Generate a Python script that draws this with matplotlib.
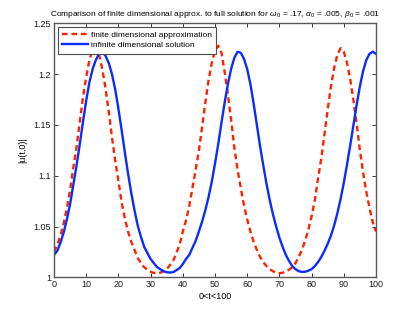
import numpy as np
import matplotlib
matplotlib.use("Agg")
import matplotlib.pyplot as plt

t = list(range(0, 101))

finite_approx = [
    1.025, 1.032, 1.041, 1.053, 1.068, 1.086, 1.108, 1.128, 1.153, 1.177,
    1.197, 1.214, 1.224, 1.226, 1.219, 1.205, 1.186, 1.163, 1.138, 1.115,
    1.095, 1.074, 1.058, 1.045, 1.035, 1.027, 1.019, 1.014, 1.010, 1.0075,
    1.0055, 1.0043, 1.004, 1.0045, 1.006, 1.008, 1.012, 1.016, 1.024, 1.032,
    1.045, 1.056, 1.070, 1.088, 1.106, 1.125, 1.148, 1.172, 1.194, 1.211,
    1.223, 1.228, 1.221, 1.202, 1.180, 1.155, 1.128, 1.106, 1.088, 1.071,
    1.057, 1.045, 1.035, 1.027, 1.020, 1.015, 1.011, 1.008, 1.006, 1.0045,
    1.004, 1.0045, 1.0055, 1.0075, 1.010, 1.014, 1.020, 1.027, 1.036, 1.047,
    1.060, 1.076, 1.097, 1.117, 1.141, 1.165, 1.188, 1.206, 1.219, 1.2255,
    1.222, 1.211, 1.195, 1.174, 1.151, 1.125, 1.103, 1.084, 1.068, 1.054,
    1.045,
]

infinite_sol = [
    1.022, 1.026, 1.034, 1.044, 1.057, 1.072, 1.091, 1.110, 1.131, 1.153,
    1.174, 1.192, 1.205, 1.214, 1.220, 1.222, 1.218, 1.211, 1.200, 1.185,
    1.166, 1.145, 1.123, 1.102, 1.083, 1.066, 1.051, 1.040, 1.030, 1.024,
    1.018, 1.014, 1.010, 1.008, 1.006, 1.005, 1.0047, 1.005, 1.007, 1.009,
    1.013, 1.018, 1.022, 1.029, 1.036, 1.045, 1.055, 1.066, 1.079, 1.094,
    1.112, 1.131, 1.152, 1.172, 1.190, 1.205, 1.216, 1.222, 1.221, 1.215,
    1.205, 1.190, 1.171, 1.150, 1.129, 1.110, 1.092, 1.076, 1.062, 1.050,
    1.039, 1.030, 1.022, 1.016, 1.011, 1.008, 1.006, 1.0053, 1.0055, 1.0065,
    1.008, 1.011, 1.015, 1.020, 1.026, 1.033, 1.041, 1.051, 1.063, 1.077,
    1.093, 1.111, 1.130, 1.150, 1.170, 1.188, 1.203, 1.214, 1.220, 1.222,
    1.220,
]

xticks = [0, 10, 20, 30, 40, 50, 60, 70, 80, 90, 100]
yticks = [1, 1.05, 1.1, 1.15, 1.2, 1.25]
ytick_labels = ["1", "1.05", "1.1", "1.15", "1.2", "1.25"]

plt.rcParams['font.family'] = ['Liberation Sans', 'DejaVu Sans']
plt.rcParams['mathtext.fontset'] = 'custom'
plt.rcParams['mathtext.rm'] = 'Liberation Sans'
plt.rcParams['mathtext.it'] = 'Liberation Sans:italic'

fig = plt.figure(figsize=(4.15, 3.13), dpi=100)
ax = fig.add_axes([54/415, 1-277.3/313, (376-54)/415, (277.3-23.3)/313])

ax.plot(t, finite_approx, color='#ff2200', lw=1.7, linestyle=(0, (2.4, 1.6)),
        label='finite dimensional approximation')
ax.plot(t, infinite_sol, color='#0a2cff', lw=1.7, label='infinite dimensional solution')

ax.set_xlim(0, 100)
ax.set_ylim(1, 1.25)
ax.set_xticks(xticks)
ax.set_xticklabels([str(v) for v in xticks])
ax.set_yticks(yticks)
ax.set_yticklabels(ytick_labels)
ax.tick_params(direction='in', length=3, width=0.6, labelsize=6.5, colors='0.1',
               top=True, right=True, pad=2)
for s in ax.spines.values():
    s.set_color('0.35')
    s.set_linewidth(1.0)

ax.set_xlabel('0<t<100', fontsize=6.5, labelpad=2)
ax.set_ylabel('|u(t,0)|', fontsize=6.5, labelpad=5)
ax.set_title(r'Comparison of finite dimensional approx. to full solution for $\omega_0$ = .17, $\alpha_0$ = .005, $\beta_0$ = .001',
             fontsize=6, pad=5)

leg = ax.legend(loc='upper left', fontsize=6.0, frameon=True, fancybox=False,
                handlelength=3.1, borderpad=0.5, labelspacing=0.3,
                handletextpad=0.35, borderaxespad=0.45)
leg.get_frame().set_edgecolor('0.3')
leg.get_frame().set_linewidth(0.8)
leg.get_frame().set_alpha(1.0)

fig.savefig('out.png', dpi=100)
